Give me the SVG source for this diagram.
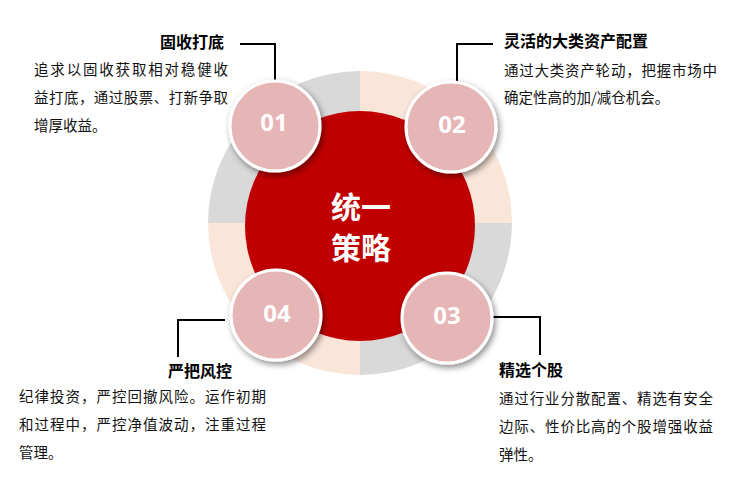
<svg xmlns="http://www.w3.org/2000/svg" width="734" height="487" viewBox="0 0 734 487">
<defs>
<filter id="sh" x="-30%" y="-30%" width="160%" height="160%">
<feDropShadow dx="2" dy="3" stdDeviation="3" flood-color="#000" flood-opacity="0.45"/>
</filter>
<style>
.seg-g{fill:#D9D9D9}
.seg-p{fill:#FAE5D9}
.num-c{fill:#E6B5B5;stroke:#fff;stroke-width:3;filter:url(#sh)}
.num{font-family:"Open Sans","Liberation Sans",sans-serif;font-weight:700;font-size:24px;fill:#fff;text-anchor:middle}
.ctr{font-family:"Noto Sans CJK SC",sans-serif;font-weight:700;font-size:30px;fill:#fff;text-anchor:middle}
.ttl{font-family:"Noto Sans CJK SC",sans-serif;font-weight:700;font-size:16px;fill:#000}
.body{font-family:"Noto Sans CJK SC",sans-serif;font-size:14.5px;fill:#111}
.ln{fill:none;stroke:#000;stroke-width:2}
</style>
</defs>
<rect width="734" height="487" fill="#fff"/>
<g id="ring">
<path class="seg-g" d="M360 223 L360 71 A152 152 0 0 0 208 223 Z"/>
<path class="seg-p" d="M360 223 L512 223 A152 152 0 0 0 360 71 Z"/>
<path class="seg-g" d="M360 223 L360 375 A152 152 0 0 0 512 223 Z"/>
<path class="seg-p" d="M360 223 L208 223 A152 152 0 0 0 360 375 Z"/>
</g>
<g id="connectors">
<polyline class="ln" points="240,44 275,44 275,82"/>
<polyline class="ln" points="493,44 457,44 457,82"/>
<polyline class="ln" points="492,317 540,317 540,355"/>
<polyline class="ln" points="225,320 178,320 178,357"/>
</g>
<g id="center">
<circle cx="360" cy="226" r="115" fill="#C00000"/>
<text class="ctr" x="361" y="218">统一</text>
<text class="ctr" x="361" y="259">策略</text>
</g>
<g id="n01">
<circle class="num-c" cx="275" cy="126" r="45"/>
<text class="num" x="274" y="131">01</text>
</g>
<g id="n02">
<circle class="num-c" cx="451" cy="127" r="45"/>
<text class="num" x="452" y="133">02</text>
</g>
<g id="n03">
<circle class="num-c" cx="447" cy="318" r="45"/>
<text class="num" x="447" y="324">03</text>
</g>
<g id="n04">
<circle class="num-c" cx="276" cy="315" r="45"/>
<text class="num" x="277" y="322">04</text>
</g>
<g id="t01">
<text class="ttl" x="224" y="48" text-anchor="end">固收打底</text>
<text class="body" x="34" y="75" textLength="194" lengthAdjust="spacing">追求以固收获取相对稳健收</text>
<text class="body" x="34" y="103" textLength="194" lengthAdjust="spacing">益打底，通过股票、打新争取</text>
<text class="body" x="34" y="131">增厚收益。</text>
</g>
<g id="t02">
<text class="ttl" x="504" y="47">灵活的大类资产配置</text>
<text class="body" x="504" y="76" textLength="213" lengthAdjust="spacing">通过大类资产轮动，把握市场中</text>
<text class="body" x="504" y="103">确定性高的加/减仓机会。</text>
</g>
<g id="t03">
<text class="ttl" x="499" y="376">精选个股</text>
<text class="body" x="499" y="404" textLength="214" lengthAdjust="spacing">通过行业分散配置、精选有安全</text>
<text class="body" x="499" y="432" textLength="214" lengthAdjust="spacing">边际、性价比高的个股增强收益</text>
<text class="body" x="499" y="460">弹性。</text>
</g>
<g id="t04">
<text class="ttl" x="168" y="377">严把风控</text>
<text class="body" x="19" y="402" textLength="247" lengthAdjust="spacing">纪律投资，严控回撤风险。运作初期</text>
<text class="body" x="19" y="430" textLength="247" lengthAdjust="spacing">和过程中，严控净值波动，注重过程</text>
<text class="body" x="19" y="458">管理。</text>
</g>
</svg>
